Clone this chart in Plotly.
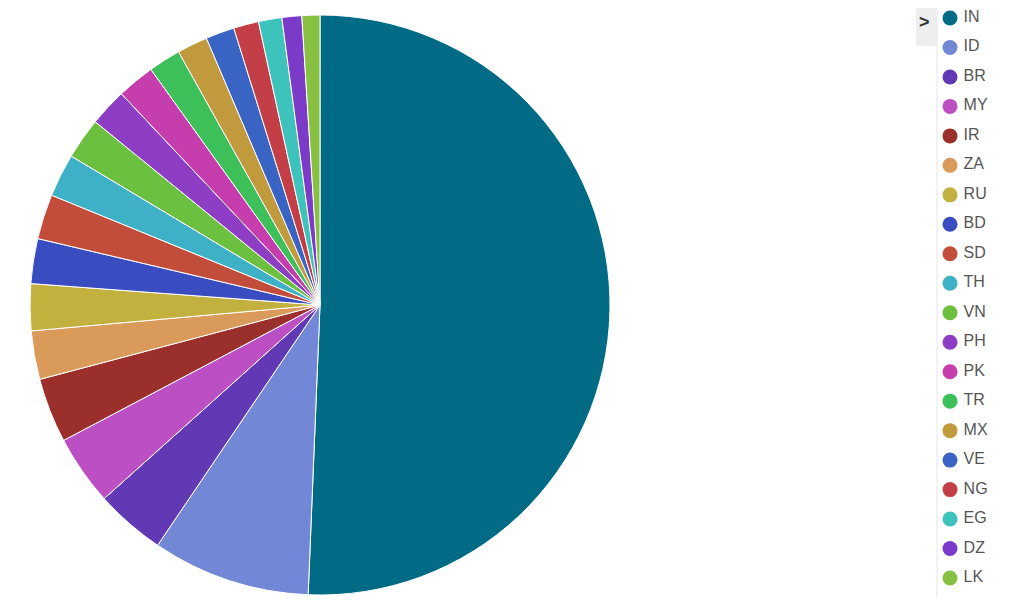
import plotly.graph_objects as go

countries = ["IN", "ID", "BR", "MY", "IR", "ZA", "RU", "BD", "SD", "TH",
             "VN", "PH", "PK", "TR", "MX", "VE", "NG", "EG", "DZ", "LK"]
values = [506, 88, 39, 39, 36, 27, 26, 25, 25, 24,
          23, 21, 21, 18, 17, 16, 14, 13, 11, 10]
colors = ["#016a85", "#7288d6", "#6139b5", "#bb4fc3", "#9a2f2c", "#d99a5a",
          "#c2b13e", "#3a4dc0", "#c14d3a", "#3fb1c6", "#6cc040", "#8e3ec4",
          "#c63eae", "#3dbf59", "#c19a3d", "#3a64c4", "#c43e47", "#3dc2bc",
          "#7c3ac8", "#88c141"]
legend_rank = list(range(len(countries)))

# page body has an 8px margin; figure coordinates = screen - 8
W, H = 1003, 590
cx, cy, r = 312, 297, 290

fig = go.Figure()
fig.add_trace(go.Pie(
    labels=countries, values=values, sort=False, direction="clockwise",
    rotation=0, textinfo="none", showlegend=False,
    marker=dict(colors=colors, line=dict(color="white", width=1)),
    domain=dict(x=[(cx - r) / W, (cx + r) / W],
                y=[1 - (cy + r) / H, 1 - (cy - r) / H]),
))
# legend drawn as a marker+text column
fig.add_trace(go.Scatter(
    x=[0] * len(countries), y=legend_rank, mode="markers+text",
    text=countries, texttemplate="\u2009%{text}",
    textposition="middle right", cliponaxis=False,
    marker=dict(symbol="circle", size=15, color=colors, line=dict(width=0)),
    textfont=dict(size=16, color="#555555",
                  family="Liberation Sans, Arial, sans-serif"),
    showlegend=False, hoverinfo="skip",
))

px_per = 560 / 19
top = -10 / px_per
fig.update_layout(
    width=W, height=H, margin=dict(l=0, r=0, t=0, b=0),
    paper_bgcolor="white", plot_bgcolor="rgba(0,0,0,0)",
    showlegend=False,
    xaxis=dict(visible=False, domain=[880 / W, 1.0],
               range=[-62 / 123, 1 - 62 / 123], fixedrange=True),
    yaxis=dict(visible=False, domain=[0, 1],
               range=[top + H / px_per, top], fixedrange=True),
    font=dict(family="Liberation Sans, Arial, sans-serif"),
    shapes=[
        dict(type="line", xref="paper", yref="paper",
             x0=929 / W, x1=929 / W, y0=0, y1=1,
             line=dict(color="#e6e6e6", width=1)),
        dict(type="rect", xref="paper", yref="paper",
             x0=908 / W, x1=929 / W, y0=1 - 38 / H, y1=1,
             fillcolor="#eeeeee", line=dict(width=0)),
    ],
    annotations=[
        dict(text="<b>></b>", xref="paper", yref="paper",
             x=916 / W, y=1 - 14 / H, xanchor="center", yanchor="middle",
             showarrow=False, font=dict(size=18, color="#333333")),
    ],
)

fig.write_html("out.html")
